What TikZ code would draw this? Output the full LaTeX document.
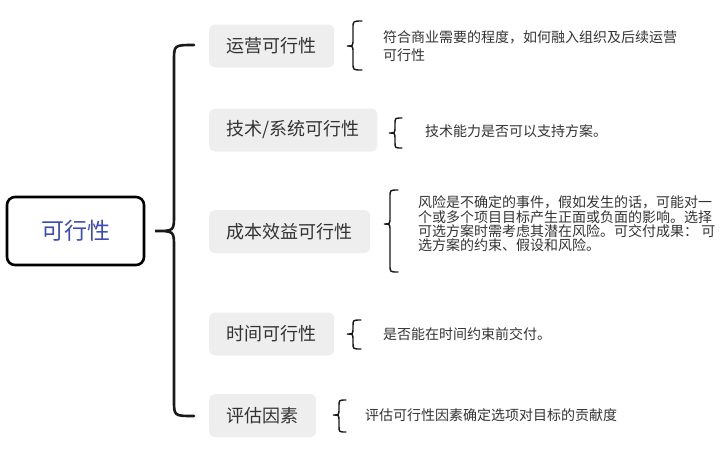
\documentclass[tikz,border=0pt]{standalone}
\usepackage{fontspec}
\newfontfamily\cjk{Noto Sans CJK SC}
\definecolor{rootblue}{HTML}{3D4DB7}
\definecolor{boxgray}{HTML}{EEEEEE}
\definecolor{txt}{HTML}{333333}
\newcommand\cbrace[8]{\draw[#8] (#3,#4) .. controls (#2,#4) .. (#2,#4+#7) -- (#2,#5-#7) .. controls (#2,#5) .. (#1,#5) .. controls (#2,#5) .. (#2,#5+#7) -- (#2,#6-#7) .. controls (#2,#6) .. (#3,#6);}
\begin{document}
\begin{tikzpicture}[x=1pt,y=-1pt,
  rootbox/.style={draw=black,line width=2.6pt,rounded corners=8pt,minimum width=137pt,minimum height=68pt,inner sep=0pt,text=rootblue,font=\cjk\fontsize{23}{27}\selectfont},
  childbox/.style={fill=boxgray,rounded corners=6pt,anchor=west,minimum height=43pt,inner xsep=17.5pt,inner ysep=0pt,text=txt,font=\cjk\fontsize{18}{22}\selectfont},
  desc/.style={anchor=west,inner sep=0pt,align=left,text=txt,font=\cjk\fontsize{14}{14.4}\selectfont},
  bigbr/.style={line width=2.6pt,line cap=round,black!90},
  smallbr/.style={line width=1.4pt,line cap=round,black!90}]
\useasboundingbox (0,0) rectangle (727,459);
\node[rootbox] (root) at (75.5,231) {可行性};
\node[childbox] (c1) at (209,46) {运营可行性};
\node[childbox] (c2) at (209,130) {技术/系统可行性};
\node[childbox] (c3) at (209,231.5) {成本效益可行性};
\node[childbox] (c4) at (209,334) {时间可行性};
\node[childbox] (c5) at (209,415.5) {评估因素};
\node[desc,font=\cjk\fontsize{14}{18}\selectfont] (d1) at (383,46) {符合商业需要的程度，如何融入组织及后续运营\\可行性};
\node[desc] (d2) at (425,131) {技术能力是否可以支持方案。};
\node[desc] (d3) at (418,224) {风险是不确定的事件，假如发生的话，可能对一\\个或多个项目目标产生正面或负面的影响。选择\\可选方案时需考虑其潜在风险。可交付成果： 可\\选方案的约束、假设和风险。};
\node[desc] (d4) at (383,334) {是否能在时间约束前交付。};
\node[desc] (d5) at (365,415) {评估可行性因素确定选项对目标的贡献度};
\cbrace{155}{174}{194}{45}{231}{416}{16}{bigbr}
\cbrace{347}{353}{362}{21}{46}{70}{7}{smallbr}
\cbrace{389}{395}{402}{118}{133}{148}{6}{smallbr}
\cbrace{384}{390}{398}{190}{224}{272}{7}{smallbr}
\cbrace{347}{353}{361}{320}{334}{349}{6}{smallbr}
\cbrace{333}{339}{346}{400}{415}{432}{6}{smallbr}
\end{tikzpicture}
\end{document}
